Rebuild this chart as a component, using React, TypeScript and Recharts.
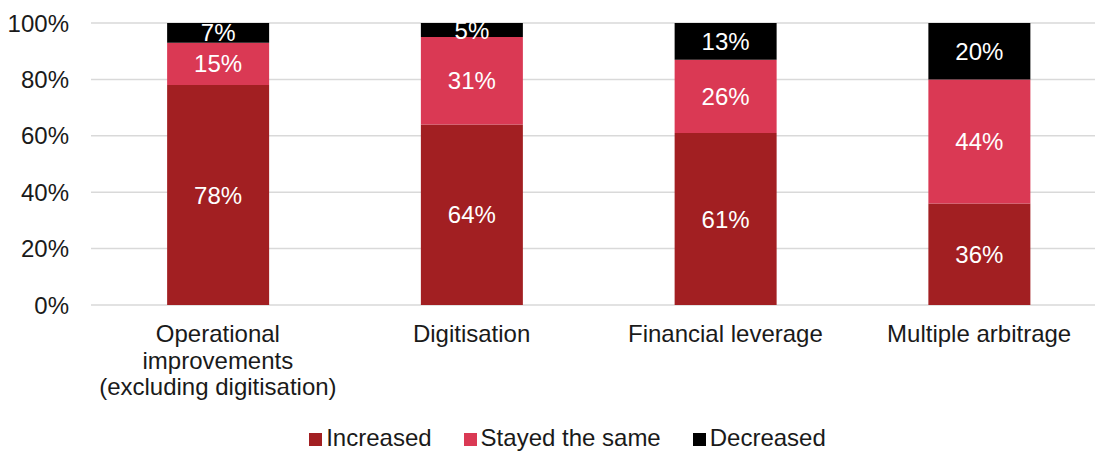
import React from 'react';
import { BarChart, Bar, XAxis, YAxis, CartesianGrid, Legend, LabelList } from 'recharts';

// categories, each broken into the lines shown under the axis
const categories = [
    'Operational improvements (excluding digitisation)',
    'Digitisation',
    'Financial leverage',
    'Multiple arbitrage',
];
const categoryLines: string[][] = [
    ['Operational', 'improvements', '(excluding digitisation)'],
    ['Digitisation'],
    ['Financial leverage'],
    ['Multiple arbitrage'],
];

const increased = [78, 64, 61, 36];
const stayedSame = [15, 31, 26, 44];
const decreased = [7, 5, 13, 20];

const yTicks = [0, 20, 40, 60, 80, 100];

const seriesNames = ['Increased', 'Stayed the same', 'Decreased'];
const COLORS = ['#A21F22', '#DA3954', '#000000'];

const data = categories.map((name, i) => ({
    name,
    increased: increased[i],
    stayed: stayedSame[i],
    decreased: decreased[i],
}));

const FONT = 'Liberation Sans, Arial, sans-serif';
const FS = 24;

const CategoryTick = (props: any) => {
    const { x, y, index } = props;
    const lines = categoryLines[index] || [];
    return (
        <text x={x} y={y} textAnchor="middle" fontSize={FS} fill="#1a1a1a" fontFamily={FONT}>
            {lines.map((line, i) => (
                <tspan key={i} x={x} y={y + 29 + i * 26.5}>{line}</tspan>
            ))}
        </text>
    );
};

const LegendContent = () => (
    <div style={{ position: 'relative', top: 4, display: 'flex', justifyContent: 'center', paddingLeft: 29, fontFamily: FONT, fontSize: FS, color: '#1a1a1a', lineHeight: '26px' }}>
        {seriesNames.map((n, i) => (
            <div key={n} style={{ display: 'flex', alignItems: 'center', marginRight: i < seriesNames.length - 1 ? 32 : 0 }}>
                <span style={{ display: 'inline-block', width: 13, height: 13, background: COLORS[i], marginRight: 4, marginTop: 3 }} />
                <span>{n}</span>
            </div>
        ))}
    </div>
);

export default function App() {
    return (
        <div style={{ position: 'absolute', left: 0, top: 0, width: 1095, height: 451, overflow: 'hidden', background: '#fff' }}>
            <BarChart
                width={1106}
                height={451}
                data={data}
                margin={{ top: 23, right: 0, bottom: 0, left: 0 }}
                barCategoryGap="30%"
            >
                <CartesianGrid vertical={false} stroke="#D9D9D9" strokeWidth={1.5} />
                <XAxis
                    dataKey="name"
                    axisLine={false}
                    tickLine={false}
                    height={116}
                    interval={0}
                    tick={<CategoryTick />}
                />
                <YAxis
                    domain={[0, 100]}
                    ticks={yTicks}
                    width={91}
                    axisLine={false}
                    tickLine={false}
                    tickSize={0}
                    tickMargin={22}
                    tickFormatter={(v) => `${v}%`}
                    tick={{ fontSize: FS, fill: '#1a1a1a', fontFamily: FONT }}
                />
                <Legend verticalAlign="bottom" height={30} content={<LegendContent />} />
                <Bar dataKey="increased" name={seriesNames[0]} stackId="a" fill={COLORS[0]} isAnimationActive={false}>
                    <LabelList dataKey="increased" position="center" fill="#fff" fontSize={FS} fontFamily={FONT} formatter={(v: any) => `${v}%`} />
                </Bar>
                <Bar dataKey="stayed" name={seriesNames[1]} stackId="a" fill={COLORS[1]} isAnimationActive={false}>
                    <LabelList dataKey="stayed" position="center" fill="#fff" fontSize={FS} fontFamily={FONT} formatter={(v: any) => `${v}%`} />
                </Bar>
                <Bar dataKey="decreased" name={seriesNames[2]} stackId="a" fill={COLORS[2]} isAnimationActive={false}>
                    <LabelList dataKey="decreased" position="center" fill="#fff" fontSize={FS} fontFamily={FONT} formatter={(v: any) => `${v}%`} />
                </Bar>
            </BarChart>
        </div>
    );
}
